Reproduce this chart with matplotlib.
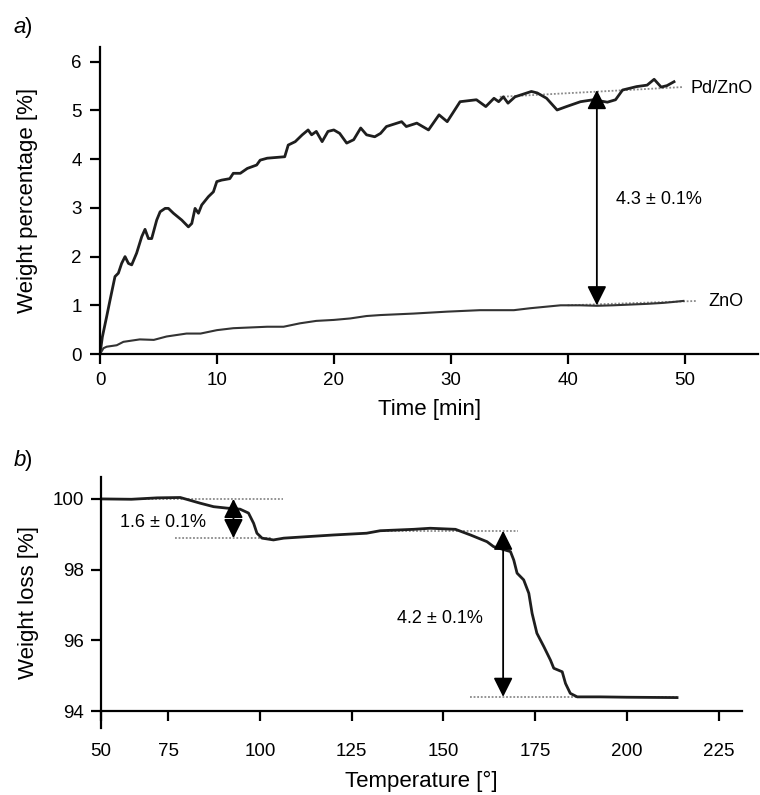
import numpy as np
import matplotlib
matplotlib.use("Agg")
from matplotlib import pyplot as plt

plt.rcParams['font.family'] = ['Liberation Sans', 'DejaVu Sans']

# --- panel a: weight uptake vs time ---
pd_t = [0, 0.2, 0.57, 0.86, 1.28, 1.57, 1.85, 2.14, 2.43, 2.71, 3.13, 3.57, 3.85, 4.14, 4.42, 4.85,
        5.14, 5.57, 5.85, 6.28, 6.99, 7.56, 7.85, 8.13, 8.42, 8.70, 9.27, 9.70, 9.99, 10.4, 11.1, 11.4,
        12.0, 12.6, 13.4, 13.7, 14.3, 15.8, 16.1, 16.7, 17.3, 17.8, 18.1, 18.5, 19.0, 19.5, 20.0, 20.5,
        21.1, 21.7, 22.3, 22.8, 23.5, 24.0, 24.5, 25.8, 26.2, 27.1, 28.1, 29.0, 29.7, 30.8, 32.2, 33.0,
        33.7, 34.1, 34.5, 34.9, 35.5, 36.9, 37.4, 38.2, 39.1, 39.9, 41.1, 42.2, 43.4, 44.1, 44.7, 45.9,
        46.8, 47.4, 48.0, 48.5, 49.1]
pd_w = [0, 0.35, 0.77, 1.11, 1.59, 1.66, 1.86, 2.0, 1.86, 1.83, 2.07, 2.41, 2.56, 2.37, 2.37, 2.75,
        2.92, 2.99, 2.99, 2.89, 2.75, 2.61, 2.68, 2.99, 2.89, 3.06, 3.23, 3.33, 3.54, 3.57, 3.60, 3.71,
        3.71, 3.81, 3.88, 3.98, 4.02, 4.05, 4.29, 4.36, 4.50, 4.60, 4.50, 4.57, 4.36, 4.57, 4.60, 4.53,
        4.33, 4.40, 4.64, 4.50, 4.46, 4.53, 4.67, 4.77, 4.67, 4.74, 4.60, 4.91, 4.77, 5.18, 5.22, 5.08,
        5.25, 5.18, 5.28, 5.15, 5.28, 5.39, 5.36, 5.25, 5.01, 5.08, 5.18, 5.22, 5.17, 5.22, 5.42, 5.49,
        5.52, 5.64, 5.48, 5.51, 5.59]

zno_t = [0, 0.3, 0.57, 1.43, 2.0, 3.4, 4.6, 5.7, 7.4, 8.6, 10.0, 11.4, 14.3, 15.7, 17.1, 18.5, 20.0,
         21.4, 22.8, 24.0, 26.8, 29.7, 32.5, 35.4, 36.8, 39.4, 41.1, 42.5, 43.9, 46.8, 48.2, 49.1, 49.9]
zno_w = [0, 0.12, 0.15, 0.18, 0.25, 0.30, 0.29, 0.36, 0.42, 0.42, 0.49, 0.53, 0.56, 0.56, 0.63, 0.68,
         0.70, 0.73, 0.78, 0.80, 0.83, 0.87, 0.90, 0.90, 0.94, 1.0, 1.0, 0.99, 1.0, 1.03, 1.05, 1.07, 1.09]

pd_fit_t = [34.2, 49.8]
pd_fit_w = [5.28, 5.48]
zno_fit_t = [40.0, 51.1]
zno_fit_w = [1.0, 1.09]

arrow_a_t = 42.5
arrow_a_w = [5.42, 1.0]

# --- panel b: TGA ---
tga_T = [56.7, 65, 72, 78.3, 83.7, 87.4, 91.0, 94.6, 96.9, 98.3, 99.2, 100.6, 103.7, 106.5, 111.0,
         120.1, 129.1, 132.8, 141.9, 146.4, 153.3, 157.4, 161.9, 163.7, 168.3, 169.2, 170.1, 171.9,
         173.3, 174.2, 175.5, 177.4, 179.2, 180.1, 182.4, 183.3, 184.6, 186.5, 192.8, 200, 213.7]
tga_w = [100.0, 99.99, 100.03, 100.04, 99.88, 99.78, 99.74, 99.71, 99.6, 99.31, 99.03, 98.89, 98.84,
         98.89, 98.92, 98.98, 99.03, 99.10, 99.14, 99.17, 99.14, 98.98, 98.79, 98.65, 98.51, 98.27,
         97.9, 97.71, 97.33, 96.76, 96.2, 95.82, 95.44, 95.21, 95.11, 94.78, 94.5, 94.40, 94.40, 94.39, 94.38]

step1_top_T = [56.7, 106.4]
step1_top_w = 100.0
step1_bot_T = [76.9, 103.0]
step1_bot_w = 98.89
step2_top_T = [132.8, 170.4]
step2_top_w = 99.10
step2_bot_T = [157.4, 213.7]
step2_bot_w = 94.40
arrow_b1_T = 92.8
arrow_b2_T = 166.3

b_xticks = [56.7, 75, 100, 125, 150, 175, 200, 225]
b_xlabels = ['50', '75', '100', '125', '150', '175', '200', '225']

line_col = '#1e1e1e'
fit_col = '#8a8a8a'
TICK = 13.5
LAB = 16
ANN = 13


def style(ax):
    for s in ['top', 'right']:
        ax.spines[s].set_visible(False)
    for s in ['left', 'bottom']:
        ax.spines[s].set_linewidth(1.6)
    ax.tick_params(direction='out', length=7, width=1.6, labelsize=TICK)


def double_arrow(ax, x, y0, y1):
    ax.annotate('', xy=(x, y1), xytext=(x, y0),
                arrowprops=dict(arrowstyle='<|-|>,head_length=0.9,head_width=0.45',
                                color='black', lw=1.3, shrinkA=0, shrinkB=0,
                                mutation_scale=13))


fig = plt.figure(figsize=(7.6, 7.95), dpi=100)

# panel a
ax1 = fig.add_axes([0.1316, 0.5547, 0.866, 0.386])
style(ax1)
ax1.plot(pd_fit_t, pd_fit_w, ls=(0, (1, 1)), color=fit_col, lw=1.3)
ax1.plot(zno_fit_t, zno_fit_w, ls=(0, (1, 1)), color=fit_col, lw=1.3)
ax1.plot(pd_t, pd_w, color=line_col, lw=2.0)
ax1.plot(zno_t, zno_w, color='#333333', lw=1.5)
double_arrow(ax1, arrow_a_t, arrow_a_w[0], arrow_a_w[1])
ax1.text(44.1, 3.18, '4.3 ± 0.1%', fontsize=ANN, va='center', ha='left')
ax1.text(50.5, 5.46, 'Pd/ZnO', fontsize=ANN, va='center', ha='left')
ax1.text(52.0, 1.07, 'ZnO', fontsize=ANN, va='center', ha='left')
ax1.set_xlim(0, 56.3)
ax1.set_ylim(0, 6.3)
ax1.set_xticks([0, 10, 20, 30, 40, 50])
ax1.set_yticks([0, 1, 2, 3, 4, 5, 6])
ax1.tick_params(axis='x', pad=6)
ax1.tick_params(axis='y', pad=6)
ax1.set_xlabel('Time [min]', fontsize=LAB, labelpad=7)
ax1.set_ylabel('Weight percentage [%]', fontsize=LAB, labelpad=24)
fig.text(0.018, 0.965, 'a', fontsize=LAB, style='italic', va='center')
fig.text(0.033, 0.965, ')', fontsize=LAB, va='center')

# panel b
ax2 = fig.add_axes([0.1329, 0.0843, 0.8434, 0.3157])
style(ax2)
ax2.spines['bottom'].set_position(('data', 94))
ax2.plot(step1_top_T, [step1_top_w] * 2, ls=(0, (1, 1)), color=fit_col, lw=1.3)
ax2.plot(step1_bot_T, [step1_bot_w] * 2, ls=(0, (1, 1)), color=fit_col, lw=1.3)
ax2.plot(step2_top_T, [step2_top_w] * 2, ls=(0, (1, 1)), color=fit_col, lw=1.3)
ax2.plot(step2_bot_T, [step2_bot_w] * 2, ls=(0, (1, 1)), color=fit_col, lw=1.3)
ax2.plot(tga_T, tga_w, color=line_col, lw=2.0)
double_arrow(ax2, arrow_b1_T, step1_top_w, step1_bot_w)
double_arrow(ax2, arrow_b2_T, step2_top_w, step2_bot_w)
ax2.text(73.6, 99.32, '1.6 ± 0.1%', fontsize=ANN, va='center', ha='center')
ax2.text(149.2, 96.63, '4.2 ± 0.1%', fontsize=ANN, va='center', ha='center')
ax2.set_xlim(56.7, 231.4)
ax2.set_ylim(93.52, 100.62)
ax2.set_xticks(b_xticks)
ax2.set_xticklabels(b_xlabels)
ax2.set_yticks([94, 96, 98, 100])
ax2.tick_params(axis='x', pad=16)
ax2.tick_params(axis='y', pad=5)
ax2.set_xlabel('Temperature [°]', fontsize=LAB, labelpad=8)
ax2.set_ylabel('Weight loss [%]', fontsize=LAB, labelpad=10)
fig.text(0.018, 0.421, 'b', fontsize=LAB, style='italic', va='center')
fig.text(0.033, 0.421, ')', fontsize=LAB, va='center')

fig.savefig('out.png', dpi=100)
